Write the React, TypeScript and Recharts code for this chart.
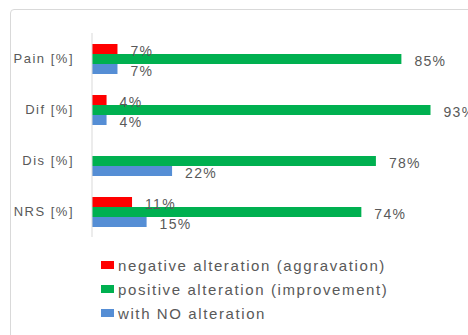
import React from "react";
import { BarChart, Bar, XAxis, YAxis, LabelList } from "recharts";

const categories = ["Pain [%]", "Dif [%]", "Dis [%]", "NRS [%]"];
const negative = [7, 4, null, 11];
const positive = [85, 93, 78, 74];
const noAlteration = [7, 4, 22, 15];

const seriesNames = [
  "negative alteration (aggravation)",
  "positive alteration (improvement)",
  "with NO alteration",
];
const colors = ["#ff0000", "#00b050", "#558ed5"];

const data = categories.map((name, i) => ({
  name,
  neg: negative[i],
  pos: positive[i],
  none: noAlteration[i],
}));

const FONT = "'Liberation Sans', Arial, sans-serif";
const TEXT = "#595959";

const fmt = (v: any) => (v == null ? "" : `${v}%`);

export default function App() {
  return (
    <div
      style={{
        position: "fixed",
        left: 0,
        top: 0,
        width: 468,
        height: 335,
        overflow: "hidden",
        background: "#fff",
      }}
    >
      <div
        style={{
          position: "absolute",
          left: 10,
          top: 9,
          width: 480,
          height: 340,
          border: "1px solid #d9d9d9",
          borderRadius: 4,
        }}
      />
      <div style={{ position: "absolute", left: 0, top: 0 }}>
        <BarChart
          width={468}
          height={335}
          data={data}
          layout="vertical"
          margin={{ top: 33, right: 0, left: 0, bottom: 98 }}
          barGap={0}
          barCategoryGap="20%"
          style={{ overflow: "visible" }}
        >
          <XAxis type="number" domain={[0, 103.3]} allowDataOverflow hide />
          <YAxis
            type="category"
            dataKey="name"
            width={92}
            axisLine={{ stroke: "#d9d9d9" }}
            tickLine={false}
            tickSize={0}
            tickMargin={18}
            tick={{ fill: TEXT, fontSize: 13, fontFamily: FONT, letterSpacing: 1.5 }}
          />
          {["neg", "pos", "none"].map((k, i) => (
            <Bar
              key={k}
              dataKey={k}
              name={seriesNames[i]}
              fill={colors[i]}
              barSize={10}
              isAnimationActive={false}
            >
              <LabelList
                dataKey={k}
                position="right"
                offset={13}
                formatter={fmt}
                fill={TEXT}
                fontSize={14}
                fontFamily={FONT}
                letterSpacing={1.3}
                dy={2}
              />
            </Bar>
          ))}
        </BarChart>
      </div>
      <div
        style={{
          position: "absolute",
          left: 101,
          top: 253,
          fontFamily: FONT,
        }}
      >
        {seriesNames.map((n, i) => (
          <div
            key={n}
            style={{
              display: "flex",
              alignItems: "center",
              height: 24,
              fontSize: 15,
              letterSpacing: 1.6,
              color: TEXT,
              whiteSpace: "nowrap",
            }}
          >
            <span
              style={{
                display: "inline-block",
                width: 13,
                height: 8,
                background: colors[i],
                marginRight: 4,
              }}
            />
            {n}
          </div>
        ))}
      </div>
    </div>
  );
}
